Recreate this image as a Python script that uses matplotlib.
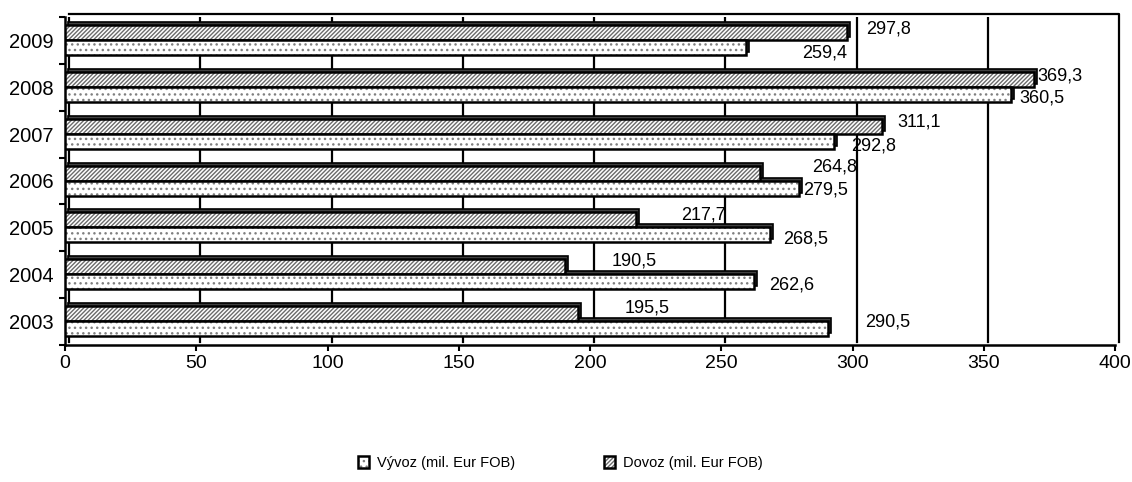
import matplotlib
matplotlib.use('Agg')
import matplotlib.pyplot as plt
import matplotlib.transforms as mtransforms
import numpy as np

plt.rcParams['font.family'] = ['Liberation Sans', 'DejaVu Sans']
plt.rcParams['hatch.linewidth'] = 1.0

years = ['2003', '2004', '2005', '2006', '2007', '2008', '2009']
vyvoz = [290.5, 262.6, 268.5, 279.5, 292.8, 360.5, 259.4]
dovoz = [195.5, 190.5, 217.7, 264.8, 311.1, 369.3, 297.8]
vyvoz_lab = ['290,5', '262,6', '268,5', '279,5', '292,8', '360,5', '259,4']
dovoz_lab = ['195,5', '190,5', '217,7', '264,8', '311,1', '369,3', '297,8']

# label offsets from the bar end, in pixels (excel put them oddly)
dovoz_dx = [46, 47, 45, 52, 16, 3, 19]
dovoz_dy = [6, 6, 5, 6, 4, 3, 3]
vyvoz_dx = [38, 15, 13, 4, 18, 8, 56]
vyvoz_dy = [7, -3, -4, -2, -5, -4, -6]

fig = plt.figure(figsize=(11.32, 4.82), dpi=100)
ax = fig.add_axes([65 / 1132, 1 - 345 / 482, 1050 / 1132, 328 / 482])

y = np.arange(len(years))
h = 0.32
depth = mtransforms.offset_copy(ax.transData, fig=fig, x=3, y=3, units='dots')
wall = mtransforms.offset_copy(ax.transData, fig=fig, x=4, y=3, units='dots')

# back wall grid
for gx in range(50, 401, 50):
    ax.plot([gx, gx], [-0.5, 6.5], color='black', lw=1.6, transform=wall, zorder=1)
ax.plot([0, 400, 400], [6.5, 6.5, -0.5], color='black', lw=1.6, transform=wall, zorder=1, clip_on=False)
ax.plot([0, 0], [-0.5, 6.5], color='black', lw=1.6, transform=wall, zorder=1)

# 3d side faces
ax.barh(y + 0.17, dovoz, height=h, color='#404040', edgecolor='black', lw=1.2, transform=depth, zorder=2)
ax.barh(y - 0.15, vyvoz, height=h, color='#404040', edgecolor='black', lw=1.2, transform=depth, zorder=2)

b1 = ax.barh(y + 0.17, dovoz, height=h, color='white', edgecolor='black', lw=1.8,
             hatch='////////', zorder=3, label='Dovoz (mil. Eur FOB)')
b2 = ax.barh(y - 0.15, vyvoz, height=h, color='white', edgecolor='black', lw=1.8,
             hatch='...', zorder=3, label='Vývoz (mil. Eur FOB)')
for p in b1:
    p._hatch_color = (0.42, 0.42, 0.42, 1)
for p in b2:
    p._hatch_color = (0.5, 0.5, 0.5, 1)

for i in range(len(years)):
    ax.annotate(dovoz_lab[i], (dovoz[i], y[i] + 0.17), xytext=(dovoz_dx[i], dovoz_dy[i]),
                textcoords='offset pixels', va='center', ha='left', fontsize=13)
    ax.annotate(vyvoz_lab[i], (vyvoz[i], y[i] - 0.15), xytext=(vyvoz_dx[i], vyvoz_dy[i]),
                textcoords='offset pixels', va='center', ha='left', fontsize=13)

ax.set_xlim(0, 400)
ax.set_ylim(-0.5, 6.5)
ax.set_xticks(range(0, 401, 50))
ax.set_yticks(y)
ax.set_yticklabels(years)
ax.set_yticks(np.arange(-0.5, 6.6, 1), minor=True)
ax.tick_params(axis='y', which='major', length=0, labelsize=14.5, pad=8)
ax.tick_params(axis='y', which='minor', length=4, width=1.5)
ax.tick_params(axis='x', length=4, width=1.5, labelsize=14, pad=3)
for s in ['top', 'right']:
    ax.spines[s].set_visible(False)
for s in ['left', 'bottom']:
    ax.spines[s].set_linewidth(1.8)

handles, labels = ax.get_legend_handles_labels()
fig.legend(handles[::-1], labels[::-1], loc='center', bbox_to_anchor=(560 / 1132, 1 - 463 / 482),
           ncol=2, frameon=False, fontsize=10.5, handlelength=0.8, handleheight=0.8,
           handletextpad=0.5, columnspacing=6.1)

fig.savefig('out.png', dpi=100)
